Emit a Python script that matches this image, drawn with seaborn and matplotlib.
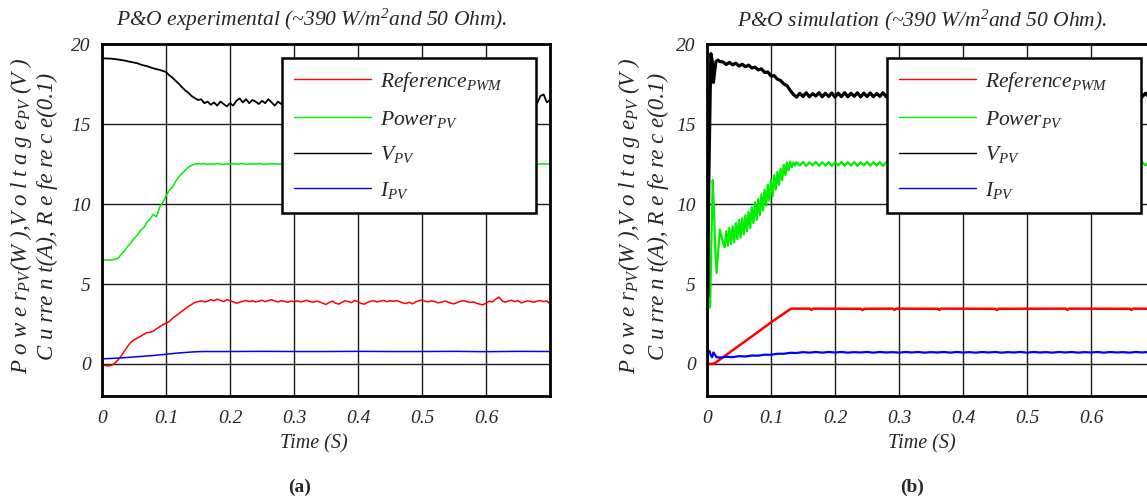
import matplotlib
matplotlib.use("Agg")
import matplotlib.pyplot as plt
from matplotlib.lines import Line2D
import seaborn as sns

# ---------------- data: (a) experimental ----------------
exp_t_ms = [0, 5, 10, 15, 20, 25, 30, 35, 40, 45, 50, 55, 60, 65, 70, 75, 80, 85, 90, 95,
            100, 105, 110, 115, 120, 125, 130, 135, 140, 145, 150, 155, 160, 165, 170, 175, 180, 185, 190, 195,
            200, 205, 210, 215, 220, 225, 230, 235, 240, 245, 250, 255, 260, 265, 270, 275, 280, 285, 290, 295,
            300, 305, 310, 315, 320, 325, 330, 335, 340, 345, 350, 355, 360, 365, 370, 375, 380, 385, 390, 395,
            400, 405, 410, 415, 420, 425, 430, 435, 440, 445, 450, 455, 460, 465, 470, 475, 480, 485, 490, 495,
            500, 505, 510, 515, 520, 525, 530, 535, 540, 545, 550, 555, 560, 565, 570, 575, 580, 585, 590, 595,
            600, 605, 610, 615, 620, 625, 630, 635, 640, 645, 650, 655, 660, 665, 670, 675, 680, 685, 690, 695,
            700]

exp_v = [19.10, 19.10, 19.09, 19.08, 19.06, 19.03, 19.00, 18.97, 18.92, 18.88, 18.84,
         18.80, 18.72, 18.66, 18.62, 18.55, 18.48, 18.43, 18.38, 18.32, 18.25,
         18.05, 17.90, 17.70, 17.52, 17.30, 17.10, 16.95, 16.75, 16.62, 16.50,
         16.55, 16.30, 16.40, 16.20, 16.35, 16.15, 16.40, 16.25, 16.10, 16.30,
         16.15, 16.45, 16.60, 16.35, 16.55, 16.30, 16.50, 16.40, 16.25, 16.45,
         16.30, 16.55, 16.35, 16.15, 16.40, 16.25, 16.50, 16.30, 16.45, 16.20,
         16.40, 16.55, 16.30, 16.45, 16.25, 16.50, 16.35, 16.20, 16.45, 16.30,
         16.50, 16.25, 16.40, 16.60, 16.35, 16.45, 16.20, 16.40, 16.30, 16.55,
         16.35, 16.20, 16.45, 16.30, 16.50, 16.25, 16.40, 16.55, 16.30, 16.45,
         16.25, 16.40, 16.20, 16.45, 16.35, 16.55, 16.30, 16.40, 16.25, 16.45,
         16.30, 16.50, 16.35, 16.20, 16.40, 16.55, 16.30, 16.45, 16.25, 16.40,
         16.55, 16.35, 16.25, 16.45, 16.30, 16.50, 16.20, 16.40, 16.35, 16.50,
         16.25, 16.45, 16.30, 16.40, 16.55, 16.30, 16.20, 16.45, 16.35, 16.50,
         16.30, 16.40, 16.25, 16.45, 16.35, 16.30, 16.75, 16.85, 16.35, 16.50]

exp_power = [6.50, 6.50, 6.50, 6.50, 6.55, 6.60, 6.85, 7.05, 7.35, 7.55, 7.85,
             8.05, 8.35, 8.50, 8.85, 9.05, 9.35, 9.20, 9.80, 10.10, 10.50,
             10.85, 11.05, 11.40, 11.70, 11.90, 12.10, 12.30, 12.42, 12.50, 12.52,
             12.50, 12.52, 12.48, 12.51, 12.49, 12.53, 12.50, 12.47, 12.51, 12.50,
             12.52, 12.49, 12.50, 12.53, 12.48, 12.50, 12.51, 12.49, 12.52, 12.50,
             12.48, 12.51, 12.50, 12.52, 12.49, 12.50, 12.53, 12.48, 12.50, 12.51,
             12.49, 12.52, 12.50, 12.48, 12.51, 12.50, 12.52, 12.49, 12.50, 12.53,
             12.48, 12.50, 12.51, 12.49, 12.52, 12.50, 12.48, 12.51, 12.50, 12.52,
             12.49, 12.50, 12.53, 12.48, 12.50, 12.51, 12.49, 12.52, 12.50, 12.48,
             12.51, 12.50, 12.52, 12.49, 12.50, 12.53, 12.48, 12.50, 12.51, 12.49,
             12.52, 12.50, 12.48, 12.51, 12.50, 12.52, 12.49, 12.50, 12.53, 12.48,
             12.50, 12.51, 12.49, 12.52, 12.50, 12.48, 12.51, 12.50, 12.52, 12.49,
             12.50, 12.53, 12.48, 12.50, 12.51, 12.49, 12.52, 12.50, 12.48, 12.51,
             12.50, 12.52, 12.49, 12.50, 12.53, 12.48, 12.50, 12.51, 12.49, 12.52]

exp_ref = [-0.05, -0.10, -0.12, -0.08, 0.05, 0.25, 0.50, 0.80, 1.10, 1.35, 1.50,
           1.62, 1.72, 1.85, 1.95, 1.98, 2.05, 2.20, 2.32, 2.45, 2.55,
           2.65, 2.85, 3.00, 3.15, 3.30, 3.45, 3.60, 3.72, 3.85, 3.90,
           3.95, 3.88, 3.92, 4.02, 3.95, 4.05, 3.98, 3.90, 4.02, 3.96,
           3.88, 3.80, 3.86, 3.92, 3.97, 3.90, 3.95, 3.88, 3.93, 3.98,
           3.90, 3.96, 4.02, 3.94, 3.88, 3.95, 3.92, 3.86, 3.93, 3.90,
           3.95, 3.88, 3.92, 3.98, 3.90, 3.86, 3.93, 3.88, 3.80, 3.72,
           3.85, 3.93, 3.80, 3.74, 3.86, 3.95, 3.90, 3.84, 3.97, 3.90,
           3.78, 3.74, 3.86, 3.92, 3.95, 3.88, 3.93, 3.97, 3.90, 3.95,
           3.92, 3.96, 3.90, 3.82, 3.78, 3.86, 3.76, 3.88, 3.95, 4.00,
           3.92, 3.88, 3.95, 3.90, 3.82, 3.86, 3.93, 3.88, 3.80, 3.76,
           3.84, 3.92, 3.96, 3.90, 3.85, 3.88, 3.80, 3.74, 3.70, 3.80,
           3.92, 3.88, 4.05, 4.18, 3.95, 3.86, 3.94, 3.98, 3.90, 3.96,
           3.82, 3.88, 3.95, 3.90, 3.86, 3.93, 3.97, 3.90, 3.94, 3.76]

exp_i_t_ms = [0, 20, 40, 60, 80, 100, 120, 140, 150, 160, 200, 250, 300, 350, 400, 450, 500, 550, 600, 650, 700]
exp_i = [0.32, 0.36, 0.41, 0.47, 0.53, 0.61, 0.69, 0.75, 0.77, 0.78, 0.78, 0.79, 0.78, 0.78, 0.79, 0.78, 0.78, 0.79, 0.77, 0.79, 0.78]

# ---------------- data: (b) simulation ----------------
sim_v_t_ms = [0, 1, 3, 6, 8, 10, 12, 14, 17, 20,
              25, 30, 35, 40, 45, 50, 55, 60, 65, 70,
              75, 80, 85, 90, 95, 100, 105, 110, 115, 120,
              125, 130, 135, 140, 145, 150, 155, 160, 165, 170,
              175, 180, 185, 190, 195, 200, 205, 210, 215, 220,
              225, 230, 235, 240, 245, 250, 255, 260, 265, 270,
              275, 280, 285, 290, 295, 300, 305, 310, 315, 320,
              325, 330, 335, 340, 345, 350, 355, 360, 365, 370,
              375, 380, 385, 390, 395, 400, 405, 410, 415, 420,
              425, 430, 435, 440, 445, 450, 455, 460, 465, 470,
              475, 480, 485, 490, 495, 500, 505, 510, 515, 520,
              525, 530, 535, 540, 545, 550, 555, 560, 565, 570,
              575, 580, 585, 590, 595, 600, 605, 610, 615, 620,
              625, 630, 635, 640, 645, 650, 655, 660, 665, 670,
              675, 680, 685, 690, 695, 700]
sim_v = [14.0, 4.2, 12.0, 19.4, 19.0, 17.6, 18.3, 18.9, 19.0, 18.9,
         18.88, 18.72, 18.85, 18.70, 18.80, 18.62, 18.74, 18.58, 18.68, 18.50,
         18.55, 18.38, 18.45, 18.22, 18.25, 18.00, 18.02, 17.80, 17.72, 17.50,
         17.40, 17.10, 16.85, 16.68, 16.92, 16.72, 16.95, 16.70, 16.90, 16.75,
         16.95, 16.70, 16.92, 16.72, 16.94, 16.68, 16.93, 16.71, 16.96, 16.70,
         16.92, 16.73, 16.95, 16.69, 16.93, 16.72, 16.94, 16.70, 16.91, 16.73,
         16.95, 16.70, 16.92, 16.72, 16.96, 16.69, 16.93, 16.71, 16.94, 16.70,
         16.92, 16.73, 16.95, 16.70, 16.93, 16.72, 16.94, 16.69, 16.92, 16.71,
         16.95, 16.70, 16.93, 16.72, 16.94, 16.70, 16.92, 16.73, 16.96, 16.69,
         16.93, 16.71, 16.94, 16.70, 16.92, 16.72, 16.95, 16.70, 16.93, 16.73,
         16.94, 16.69, 16.92, 16.71, 16.95, 16.70, 16.93, 16.72, 16.94, 16.70,
         16.92, 16.73, 16.95, 16.69, 16.93, 16.71, 16.94, 16.70, 16.92, 16.72,
         16.95, 16.70, 16.93, 16.73, 16.94, 16.69, 16.92, 16.71, 16.95, 16.70,
         16.93, 16.72, 16.94, 16.70, 16.92, 16.73, 16.95, 16.69, 16.93, 16.71,
         16.94, 16.70, 16.92, 16.72, 16.95, 16.70]

sim_p_t_ms = [0, 1, 2, 3, 5, 7, 9, 11, 13, 15, 17, 20, 23, 25,
              27.5, 30, 32.5, 35, 37.5, 40, 42.5, 45, 47.5, 50,
              52.5, 55, 57.5, 60, 62.5, 65, 67.5, 70, 72.5, 75,
              77.5, 80, 82.5, 85, 87.5, 90, 92.5, 95, 97.5, 100,
              102.5, 105, 107.5, 110, 112.5, 115, 117.5, 120, 122.5, 125,
              127.5, 130, 132.5, 135, 137.5, 140,
              145, 150, 155, 160, 165, 170, 175, 180, 185, 190,
              195, 200, 205, 210, 215, 220, 225, 230, 235, 240,
              245, 250, 255, 260, 265, 270, 275, 280, 285, 290,
              295, 300, 305, 310, 315, 320, 325, 330, 335, 340,
              345, 350, 355, 360, 365, 370, 375, 380, 385, 390,
              395, 400, 405, 410, 415, 420, 425, 430, 435, 440,
              445, 450, 455, 460, 465, 470, 475, 480, 485, 490,
              495, 500, 505, 510, 515, 520, 525, 530, 535, 540,
              545, 550, 555, 560, 565, 570, 575, 580, 585, 590,
              595, 600, 605, 610, 615, 620, 625, 630, 635, 640,
              645, 650, 655, 660, 665, 670, 675, 680, 685, 690,
              695, 700]
sim_power = [7.0, 12.7, 8.0, 3.5, 3.6, 8.0, 11.5, 9.5, 7.0, 5.7, 6.8, 8.4, 7.9, 7.6,
             7.3, 8.3, 7.4, 8.5, 7.5, 8.6, 7.6, 8.8, 7.8, 9.0,
             7.9, 9.1, 8.1, 9.3, 8.3, 9.5, 8.5, 9.8, 8.8, 10.1,
             9.0, 10.3, 9.3, 10.6, 9.6, 10.9, 9.9, 11.2, 10.2, 11.5,
             10.5, 11.8, 10.9, 12.0, 11.2, 12.2, 11.5, 12.45, 11.8, 12.6,
             12.1, 12.65, 12.3, 12.6, 12.4, 12.62,
             12.40, 12.62, 12.38, 12.60, 12.42, 12.63, 12.39, 12.61, 12.40, 12.62,
             12.38, 12.60, 12.41, 12.63, 12.39, 12.61, 12.40, 12.62, 12.38, 12.60,
             12.42, 12.63, 12.39, 12.61, 12.40, 12.62, 12.38, 12.60, 12.41, 12.63,
             12.39, 12.61, 12.40, 12.62, 12.38, 12.60, 12.42, 12.63, 12.39, 12.61,
             12.40, 12.62, 12.38, 12.60, 12.41, 12.63, 12.39, 12.61, 12.40, 12.62,
             12.38, 12.60, 12.42, 12.63, 12.39, 12.61, 12.40, 12.62, 12.38, 12.60,
             12.41, 12.63, 12.39, 12.61, 12.40, 12.62, 12.38, 12.60, 12.42, 12.63,
             12.39, 12.61, 12.40, 12.62, 12.38, 12.60, 12.41, 12.63, 12.39, 12.61,
             12.40, 12.62, 12.38, 12.60, 12.42, 12.63, 12.39, 12.61, 12.40, 12.62,
             12.38, 12.60, 12.41, 12.63, 12.39, 12.61, 12.40, 12.62, 12.38, 12.60,
             12.42, 12.63, 12.39, 12.61, 12.40, 12.62, 12.38, 12.60, 12.41, 12.63,
             12.39, 12.61]

sim_ref_t_ms = [0, 5, 10, 14, 40, 70, 100, 131, 135,
                160, 163, 166, 240, 243, 246, 290, 293, 296, 360, 363, 366,
                450, 453, 456, 560, 563, 566, 660, 663, 666, 700]
sim_ref = [0.02, 0.0, 0.02, 0.10, 0.86, 1.72, 2.60, 3.45, 3.46,
           3.46, 3.38, 3.46, 3.45, 3.37, 3.45, 3.46, 3.38, 3.46, 3.45, 3.38, 3.46,
           3.45, 3.37, 3.45, 3.46, 3.38, 3.46, 3.45, 3.38, 3.46, 3.45]

sim_i_t_ms = [0, 1, 4, 6, 8, 10, 12, 15, 20,
              30, 40, 50, 60, 70, 80, 90, 100, 110, 120,
              130, 140, 150, 160, 170, 180, 190, 200, 210, 220,
              230, 240, 250, 260, 270, 280, 290, 300, 310, 320,
              330, 340, 350, 360, 370, 380, 390, 400, 410, 420,
              430, 440, 450, 460, 470, 480, 490, 500, 510, 520,
              530, 540, 550, 560, 570, 580, 590, 600, 610, 620,
              630, 640, 650, 660, 670, 680, 690, 700]
sim_i = [0.0, 0.78, 0.80, 0.55, 0.42, 0.72, 0.60, 0.42, 0.40,
         0.45, 0.43, 0.49, 0.47, 0.53, 0.52, 0.58, 0.58, 0.64, 0.64,
         0.70, 0.69, 0.74, 0.71, 0.75, 0.71, 0.75, 0.72, 0.75, 0.71,
         0.74, 0.72, 0.75, 0.71, 0.75, 0.72, 0.74, 0.71, 0.75, 0.72,
         0.75, 0.71, 0.74, 0.72, 0.75, 0.71, 0.75, 0.72, 0.74, 0.71,
         0.75, 0.72, 0.75, 0.71, 0.74, 0.72, 0.75, 0.71, 0.75, 0.72,
         0.74, 0.71, 0.75, 0.72, 0.75, 0.71, 0.74, 0.72, 0.75, 0.71,
         0.75, 0.72, 0.74, 0.71, 0.75, 0.72, 0.75, 0.71]

x_ticks = [0, 0.1, 0.2, 0.3, 0.4, 0.5, 0.6]
x_tick_labels = ["0", "0.1", "0.2", "0.3", "0.4", "0.5", "0.6"]
y_ticks = [0, 5, 10, 15, 20]
y_tick_labels = ["0", "5", "10", "15", "20"]
legend_labels = [r"Reference$_{PWM}$", r"Power$_{PV}$", r"$V_{PV}$", r"$I_{PV}$"]
titles = [r"P&O experimental (~390 W/m$^{2}$and 50 Ohm).",
          r"P&O simulation (~390 W/m$^{2}$and 50 Ohm)."]
ylabel_line1 = r"P o w e r$_{PV}$(W ),V o l t a g e$_{PV}$ (V )"
ylabel_line2 = r"C u rre n t(A), R e fe re c e(0.1)"
xlabel = "Time (S)"
panel_tags = ["(a)", "(b)"]

# ---------------- style ----------------
sns.set_style("white")
plt.rcParams["font.family"] = ["Liberation Serif", "DejaVu Serif"]
plt.rcParams["font.style"] = "italic"
plt.rcParams["mathtext.fontset"] = "custom"
plt.rcParams["mathtext.it"] = "Liberation Serif:italic"
plt.rcParams["mathtext.rm"] = "Liberation Serif:italic"
plt.rcParams["mathtext.cal"] = "Liberation Serif:italic"

RED, GREEN, BLACK, BLUE = "#ff0000", "#00ee00", "#000000", "#0000ff"

W, H = 1147, 500
fig = plt.figure(figsize=(W / 100, H / 100), dpi=100)


def px(x, y):
    return x / W, 1 - y / H


def to_s(ms):
    return [m / 1000.0 for m in ms]


ax1 = fig.add_axes([102 / W, 1 - 396 / H, 448 / W, 352 / H])
ax2 = fig.add_axes([707 / W, 1 - 396 / H, 448 / W, 352 / H])

panels = [
    (ax1, [(exp_t_ms, exp_ref, RED, 1.1), (exp_t_ms, exp_power, GREEN, 1.1),
           (exp_t_ms, exp_v, BLACK, 1.3), (exp_i_t_ms, exp_i, BLUE, 1.1)]),
    (ax2, [(sim_ref_t_ms, sim_ref, RED, 1.8), (sim_p_t_ms, sim_power, GREEN, 1.6),
           (sim_v_t_ms, sim_v, BLACK, 2.3), (sim_i_t_ms, sim_i, BLUE, 1.6)]),
]

for ax, series in panels:
    handles = []
    for t_ms, vals, col, lw in series:
        sns.lineplot(x=to_s(t_ms), y=vals, ax=ax, color=col, linewidth=lw,
                     estimator=None, sort=False, legend=False)
        handles.append(ax.get_lines()[-1])
    ax.set_xlim(0, 0.7)
    ax.set_ylim(-2, 20)
    ax.set_xticks(x_ticks)
    ax.set_xticklabels(x_tick_labels, fontsize=14, fontstyle="italic")
    ax.set_yticks(y_ticks)
    ax.set_yticklabels(y_tick_labels, fontsize=14, fontstyle="italic")
    ax.tick_params(axis="x", length=0, pad=10)
    ax.tick_params(axis="y", length=0, pad=8)
    ax.grid(True, color="#1a1a1a", linewidth=1.0)
    ax.set_axisbelow(True)
    for sp in ax.spines.values():
        sp.set_color("black")
        sp.set_linewidth(2.0)
    ax.set_xlabel("")
    ax.set_ylabel("")
    proxies = [Line2D([], [], color=h.get_color(), linewidth=1.0) for h in handles]
    leg = ax.legend(proxies, legend_labels, loc="upper left",
                    bbox_to_anchor=(0.402, 0.526, 0.567, 0.434), mode="expand",
                    frameon=True, fancybox=False, shadow=False, framealpha=1.0,
                    edgecolor="black", fontsize=15.5, handlelength=3.6, handletextpad=0.4,
                    labelspacing=0.68, borderpad=0.55, borderaxespad=0.0)
    leg.get_frame().set_linewidth(1.8)
    leg.set_zorder(10)

# titles, axis labels, tags
fig.text(*px(312, 20), titles[0], ha="center", va="center", fontsize=15.5)
fig.text(*px(922, 20), titles[1], ha="center", va="center", fontsize=15.5)
fig.text(*px(314, 444), xlabel, ha="center", va="center", fontsize=14.5)
fig.text(*px(922, 444), xlabel, ha="center", va="center", fontsize=14.5)
fig.text(*px(300, 487), panel_tags[0], ha="center", va="center", fontsize=14,
         fontstyle="normal", fontweight="bold")
fig.text(*px(912, 487), panel_tags[1], ha="center", va="center", fontsize=14,
         fontstyle="normal", fontweight="bold")

for xl1, xl2 in [(21, 47), (629, 658)]:
    fig.text(*px(xl1, 216), ylabel_line1, rotation=90, ha="center", va="center", fontsize=16.5)
    fig.text(*px(xl2, 216), ylabel_line2, rotation=90, ha="center", va="center", fontsize=16.5)

fig.savefig("out.png", dpi=100)
